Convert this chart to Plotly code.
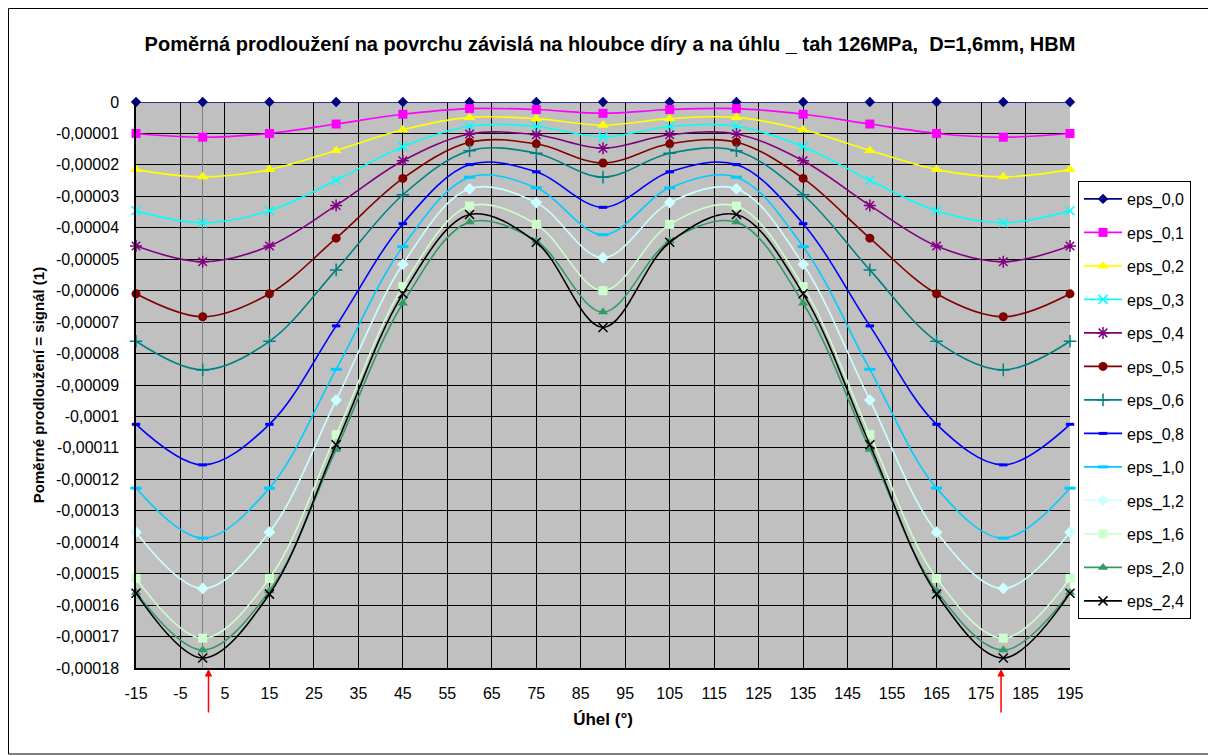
import plotly.graph_objects as go

# ---------------- data ----------------
angle = [-15, 0, 15, 30, 45, 60, 75, 90, 105, 120, 135, 150, 165, 180, 195]

eps_0_0 = [0, 0, 0, 0, 0, 0, 0, 0, 0, 0, 0, 0, 0, 0, 0]
eps_0_1 = [-1.00e-5, -1.12e-5, -1.00e-5, -0.70e-5, -0.39e-5, -0.21e-5, -0.24e-5, -0.36e-5,
           -0.24e-5, -0.21e-5, -0.39e-5, -0.70e-5, -1.00e-5, -1.12e-5, -1.00e-5]
eps_0_2 = [-2.15e-5, -2.38e-5, -2.15e-5, -1.54e-5, -0.88e-5, -0.49e-5, -0.53e-5, -0.74e-5,
           -0.53e-5, -0.49e-5, -0.88e-5, -1.54e-5, -2.15e-5, -2.38e-5, -2.15e-5]
eps_0_3 = [-3.46e-5, -3.84e-5, -3.46e-5, -2.49e-5, -1.42e-5, -0.77e-5, -0.78e-5, -1.11e-5,
           -0.78e-5, -0.77e-5, -1.42e-5, -2.49e-5, -3.46e-5, -3.84e-5, -3.46e-5]
eps_0_4 = [-4.58e-5, -5.08e-5, -4.58e-5, -3.29e-5, -1.87e-5, -1.02e-5, -1.04e-5, -1.47e-5,
           -1.04e-5, -1.02e-5, -1.87e-5, -3.29e-5, -4.58e-5, -5.08e-5, -4.58e-5]
eps_0_5 = [-6.10e-5, -6.83e-5, -6.10e-5, -4.33e-5, -2.43e-5, -1.28e-5, -1.33e-5, -1.94e-5,
           -1.33e-5, -1.28e-5, -2.43e-5, -4.33e-5, -6.10e-5, -6.83e-5, -6.10e-5]
eps_0_6 = [-7.61e-5, -8.52e-5, -7.61e-5, -5.34e-5, -2.95e-5, -1.55e-5, -1.63e-5, -2.39e-5,
           -1.63e-5, -1.55e-5, -2.95e-5, -5.34e-5, -7.61e-5, -8.52e-5, -7.61e-5]
eps_0_8 = [-10.25e-5, -11.54e-5, -10.25e-5, -7.12e-5, -3.87e-5, -1.99e-5, -2.22e-5, -3.35e-5,
           -2.22e-5, -1.99e-5, -3.87e-5, -7.12e-5, -10.25e-5, -11.54e-5, -10.25e-5]
eps_1_0 = [-12.28e-5, -13.87e-5, -12.28e-5, -8.50e-5, -4.60e-5, -2.39e-5, -2.73e-5, -4.22e-5,
           -2.73e-5, -2.39e-5, -4.60e-5, -8.50e-5, -12.28e-5, -13.87e-5, -12.28e-5]
eps_1_2 = [-13.68e-5, -15.47e-5, -13.68e-5, -9.48e-5, -5.16e-5, -2.76e-5, -3.20e-5, -4.95e-5,
           -3.20e-5, -2.76e-5, -5.16e-5, -9.48e-5, -13.68e-5, -15.47e-5, -13.68e-5]
eps_1_6 = [-15.15e-5, -17.05e-5, -15.15e-5, -10.58e-5, -5.87e-5, -3.31e-5, -3.89e-5, -6.00e-5,
           -3.89e-5, -3.31e-5, -5.87e-5, -10.58e-5, -15.15e-5, -17.05e-5, -15.15e-5]
eps_2_0 = [-15.60e-5, -17.43e-5, -15.55e-5, -11.05e-5, -6.40e-5, -3.82e-5, -4.42e-5, -6.68e-5,
           -4.42e-5, -3.82e-5, -6.40e-5, -11.05e-5, -15.55e-5, -17.43e-5, -15.60e-5]
eps_2_4 = [-15.62e-5, -17.68e-5, -15.65e-5, -10.90e-5, -6.10e-5, -3.58e-5, -4.46e-5, -7.17e-5,
           -4.46e-5, -3.58e-5, -6.10e-5, -10.90e-5, -15.65e-5, -17.68e-5, -15.62e-5]

series_names = ["eps_0,0", "eps_0,1", "eps_0,2", "eps_0,3", "eps_0,4", "eps_0,5", "eps_0,6",
                "eps_0,8", "eps_1,0", "eps_1,2", "eps_1,6", "eps_2,0", "eps_2,4"]
series_values = [eps_0_0, eps_0_1, eps_0_2, eps_0_3, eps_0_4, eps_0_5, eps_0_6,
                 eps_0_8, eps_1_0, eps_1_2, eps_1_6, eps_2_0, eps_2_4]

x_tick_vals = [-15, -5, 5, 15, 25, 35, 45, 55, 65, 75, 85, 95, 105, 115, 125, 135, 145, 155,
               165, 175, 185, 195]
x_tick_text = ["-15", "-5", "5", "15", "25", "35", "45", "55", "65", "75", "85", "95", "105",
               "115", "125", "135", "145", "155", "165", "175", "185", "195"]
y_tick_vals = [0, -1e-5, -2e-5, -3e-5, -4e-5, -5e-5, -6e-5, -7e-5, -8e-5, -9e-5, -10e-5,
               -11e-5, -12e-5, -13e-5, -14e-5, -15e-5, -16e-5, -17e-5, -18e-5]
y_tick_text = ["0", "-0,00001", "-0,00002", "-0,00003", "-0,00004", "-0,00005", "-0,00006",
               "-0,00007", "-0,00008", "-0,00009", "-0,0001", "-0,00011", "-0,00012",
               "-0,00013", "-0,00014", "-0,00015", "-0,00016", "-0,00017", "-0,00018"]

arrow_angles = [1.3, 179.5]

# ---------------- styles ----------------
styles = [
    dict(color="#000080", symbol="diamond", size=8, lw=0),
    dict(color="#FF00FF", symbol="square", size=9, lw=0),
    dict(color="#FFFF00", symbol="triangle-up", size=10, lw=0),
    dict(color="#00FFFF", symbol="x-thin-open", size=9, lw=1.5),
    dict(color="#800080", symbol="asterisk-open", size=10, lw=1.5),
    dict(color="#800000", symbol="circle", size=9, lw=0),
    dict(color="#008080", symbol="cross-thin-open", size=9, lw=1.5),
    dict(color="#0000FF", symbol="line-ew-open", size=6, lw=3),
    dict(color="#00CCFF", symbol="line-ew-open", size=8, lw=3),
    dict(color="#CCFFFF", symbol="diamond", size=9, lw=0),
    dict(color="#CCFFCC", symbol="square", size=9, lw=0),
    dict(color="#339966", symbol="triangle-up", size=9, lw=0),
    dict(color="#000000", symbol="x-thin-open", size=9, lw=1.5),
]

FONT = "Liberation Sans, Arial, sans-serif"

fig = go.Figure()
for i, (name, vals, st) in enumerate(zip(series_names, series_values, styles)):
    fig.add_trace(go.Scatter(
        x=angle, y=vals, name=name, mode="lines+markers",
        legendgroup=name,
        line=dict(color=st["color"], width=1.6, shape="spline", smoothing=1.0),
        marker=dict(color=st["color"], symbol=st["symbol"], size=st["size"],
                    line=dict(color=st["color"], width=st["lw"])),
        cliponaxis=False,
    ))

for a in arrow_angles:
    fig.add_annotation(x=a, y=-18e-5, xref="x", yref="y", text="", showarrow=True,
                       ax=0, ay=46, arrowhead=2, arrowsize=1, arrowwidth=1.5,
                       arrowcolor="#FF0000", standoff=1)

# page is offset by 8px (body margin); figure coordinates below
L, R, T, B = 128, 1062, 94, 660
W, H = 1216, 756
pw, ph = R - L, B - T

def px_x(p):
    return (p - L) / pw

def px_y(p):
    return (B - p) / ph

fig.add_shape(type="rect", xref="paper", yref="paper",
              x0=px_x(0.5), x1=px_x(1207), y0=px_y(746), y1=px_y(0.5),
              line=dict(color="#000000", width=1), fillcolor="rgba(0,0,0,0)", layer="below")

fig.update_layout(
    width=W, height=H,
    margin=dict(l=L, r=W - R, t=T, b=H - B, pad=0),
    paper_bgcolor="#FFFFFF",
    plot_bgcolor="#C0C0C0",
    font=dict(family=FONT, color="#000000"),
    title=dict(text="<b>Poměrná prodloužení na povrchu závislá na hloubce díry a na úhlu _ tah 126MPa,  D=1,6mm, HBM</b>",
               x=602 / W, xanchor="center",
               y=1 - 36 / H, yanchor="middle",
               font=dict(family=FONT, size=20, color="#000000")),
    showlegend=True,
    legend=dict(x=px_x(1070), xanchor="left", y=px_y(173), yanchor="top",
                bgcolor="#FFFFFF", bordercolor="#000000", borderwidth=1,
                font=dict(family=FONT, size=16, color="#000000"),
                tracegroupgap=9.7, itemwidth=38),
    xaxis=dict(range=[-15, 195], tickmode="array", tickvals=x_tick_vals, ticktext=x_tick_text,
               showgrid=True, gridcolor="#000000", gridwidth=1,
               zeroline=True, zerolinecolor="#808080", zerolinewidth=1,
               showline=True, linecolor="#000000", linewidth=1.5,
               ticks="", ticklabelstandoff=10,
               tickfont=dict(family=FONT, size=16),
               title=dict(text="<b>Úhel (°)</b>", font=dict(family=FONT, size=17), standoff=12)),
    yaxis=dict(range=[-18e-5, 0], tickmode="array", tickvals=y_tick_vals, ticktext=y_tick_text,
               showgrid=True, gridcolor="#000000", gridwidth=1,
               zeroline=False,
               showline=True, linecolor="#000000", linewidth=1.5,
               ticks="", ticklabelstandoff=12,
               tickfont=dict(family=FONT, size=16),
               title=dict(text="<b>Poměrné prodloužení = signál (1)</b>",
                          font=dict(family=FONT, size=15), standoff=8)),
)

fig.write_html("out.html")
